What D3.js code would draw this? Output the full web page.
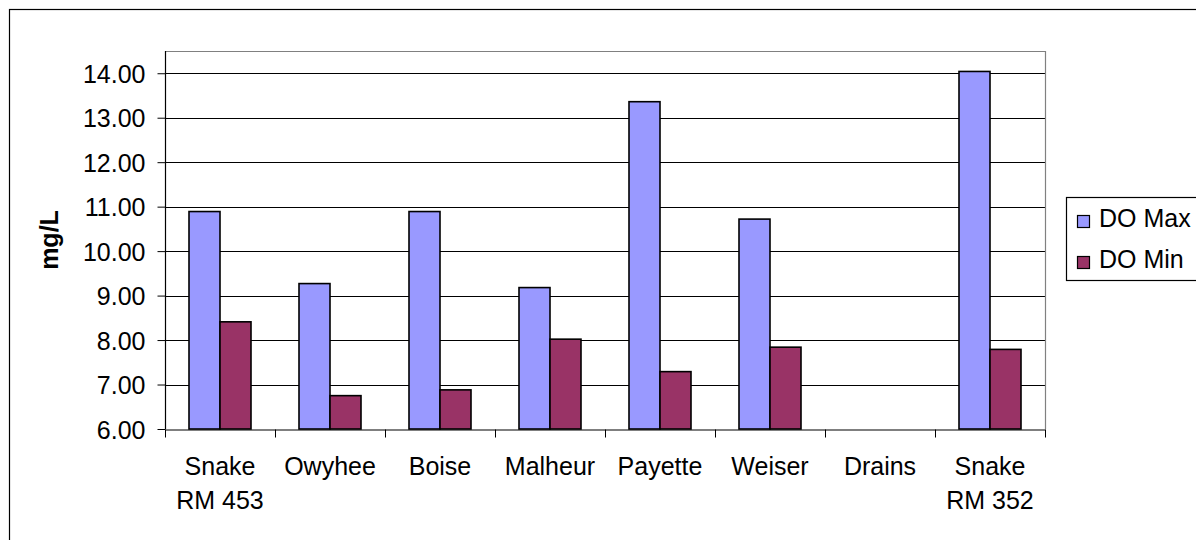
<!DOCTYPE html>
<html>
<head>
<meta charset="utf-8">
<script src="https://cdn.jsdelivr.net/npm/d3@7"></script>
<style>
  html, body { margin: 0; padding: 0; background: #fff; }
  svg { display: block; font-family: "Liberation Sans", Arial, sans-serif; }
</style>
</head>
<body>
<svg id="chart" width="1196" height="540"></svg>
<script>
const categories = [["Snake", "RM 453"], ["Owyhee"], ["Boise"], ["Malheur"], ["Payette"], ["Weiser"], ["Drains"], ["Snake", "RM 352"]];
const seriesNames = ["DO Max", "DO Min"];
const doMax = [10.89, 9.27, 10.89, 9.18, 13.36, 10.72, null, 14.04];
const doMin = [8.41, 6.75, 6.88, 8.02, 7.29, 7.84, null, 7.79];
const yTicks = [6, 7, 8, 9, 10, 11, 12, 13, 14];
const colors = ["#9999FF", "#993366"];

(function () {
const svg = d3.select("#chart");
const pLeft = 165, pRight = 1045, pTop = 51, pBottom = 429;

// outer chart border
svg.append("rect").attr("x", 9.5).attr("y", 9.5).attr("width", 1300).attr("height", 700)
  .attr("fill", "none").attr("stroke", "#000").attr("stroke-width", 1.2);

const catKeys = categories.map(c => c.join(" "));
const x0 = d3.scaleBand().domain(catKeys).range([pLeft, pRight]).paddingInner(0).paddingOuter(0);
const x1 = d3.scaleBand().domain(seriesNames).range([24, x0.bandwidth() - 24]);
const y = d3.scaleLinear().domain([6, 14.5]).range([pBottom, pTop]);

// gridlines
svg.append("g").selectAll("line").data(yTicks.filter(t => t > 6)).join("line")
  .attr("x1", pLeft).attr("x2", pRight)
  .attr("y1", d => Math.round(y(d)) + 0.5).attr("y2", d => Math.round(y(d)) + 0.5)
  .attr("stroke", "#000").attr("stroke-width", 1);

// plot area border (top/right)
svg.append("path")
  .attr("d", `M${pLeft},${pTop + 0.5}H${pRight + 0.5}V${pBottom}`)
  .attr("fill", "none").attr("stroke", "#808080").attr("stroke-width", 1.2);

// bars
const data = catKeys.map((k, i) => ({ key: k, vals: [doMax[i], doMin[i]] }));
const groups = svg.append("g").selectAll("g").data(data).join("g")
  .attr("transform", d => `translate(${x0(d.key)},0)`);
groups.selectAll("rect").data(d => d.vals.map((v, j) => ({ v, s: seriesNames[j], j })).filter(e => e.v != null))
  .join("rect")
  .attr("x", e => x1(e.s))
  .attr("width", x1.bandwidth())
  .attr("y", e => y(e.v))
  .attr("height", e => y(6) - y(e.v))
  .attr("fill", e => colors[e.j])
  .attr("stroke", "#000").attr("stroke-width", 1.6);

// y axis
const yAxis = d3.axisLeft(y).tickValues(yTicks).tickFormat(d3.format(".2f")).tickSize(8).tickPadding(12);
const ya = svg.append("g").attr("transform", `translate(${pLeft + 0.5},0)`).call(yAxis);
ya.select(".domain").attr("stroke", "#000").attr("stroke-width", 1.2).attr("d", `M0,${pTop}V${pBottom}`);
ya.selectAll(".tick line").attr("stroke", "#000");
ya.selectAll(".tick text").attr("font-size", 25).attr("fill", "#000")
  .attr("font-family", "Liberation Sans, Arial, sans-serif").attr("dy", "0.36em");

// x axis
const xAxis = d3.axisBottom(x0).tickValues([]).tickSizeOuter(0);
const xa = svg.append("g").attr("transform", `translate(0,${pBottom + 0.5})`).call(xAxis);
xa.select(".domain").attr("stroke", "#000").attr("stroke-width", 1.2);
const boundaries = d3.range(categories.length + 1).map(i => pLeft + i * x0.step());
xa.selectAll("line.b").data(boundaries).join("line").attr("class", "b")
  .attr("x1", d => Math.round(d) + 0.5).attr("x2", d => Math.round(d) + 0.5)
  .attr("y1", 0).attr("y2", 8).attr("stroke", "#000").attr("stroke-width", 1);

// category labels
const labs = svg.append("g").selectAll("text").data(categories).join("text")
  .attr("x", (d, i) => x0(catKeys[i]) + x0.bandwidth() / 2)
  .attr("y", 475)
  .attr("text-anchor", "middle").attr("font-size", 25).attr("fill", "#000");
labs.selectAll("tspan").data(d => d).join("tspan")
  .attr("x", function() { return this.parentNode.getAttribute("x"); })
  .attr("dy", (d, i) => i === 0 ? 0 : 34)
  .text(d => d);

// y axis title
svg.append("text").attr("transform", "translate(58,240) rotate(-90)")
  .attr("text-anchor", "middle").attr("font-size", 25).attr("font-weight", "bold")
  .text("mg/L");

// legend
const lg = svg.append("g");
lg.append("rect").attr("x", 1066.5).attr("y", 197.5).attr("width", 200).attr("height", 83)
  .attr("fill", "#fff").attr("stroke", "#000").attr("stroke-width", 1.2);
const items = lg.selectAll("g").data(seriesNames).join("g")
  .attr("transform", (d, i) => `translate(0,${i * 41})`);
items.append("rect").attr("x", 1077.5).attr("y", 215.5).attr("width", 12).attr("height", 12)
  .attr("fill", (d, i) => colors[i]).attr("stroke", "#000").attr("stroke-width", 1.2);
items.append("text").attr("x", 1099).attr("y", 227).attr("font-size", 25).attr("fill", "#000")
  .text(d => d);
})();
</script>
</body>
</html>
